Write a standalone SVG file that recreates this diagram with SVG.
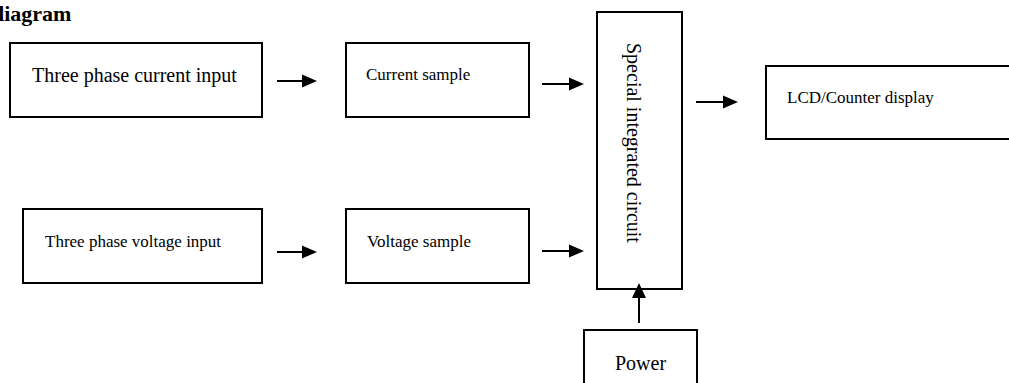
<svg xmlns="http://www.w3.org/2000/svg" width="1009" height="383" viewBox="0 0 1009 383">
<style>
.box{fill:#fff;stroke:#000;stroke-width:2}
.t{font-family:"Liberation Serif","Times New Roman",serif;fill:#000}
.big{font-size:20px}
.sm{font-size:17px}
.ln{stroke:#000;stroke-width:2;fill:none}
.hd{fill:#000}
</style>
<rect width="1009" height="383" fill="#fff"/>
<text class="t" x="-8" y="21" font-size="22" font-weight="bold">diagram</text>
<g id="n-current-input">
<rect class="box" x="10" y="43" width="252" height="74"/>
<text class="t big" x="32" y="82">Three phase current input</text>
</g>
<g id="n-current-sample">
<rect class="box" x="346" y="43" width="183" height="74"/>
<text class="t sm" x="366" y="80">Current sample</text>
</g>
<g id="n-voltage-input">
<rect class="box" x="23" y="209" width="239" height="74"/>
<text class="t sm" x="45" y="247">Three phase voltage input</text>
</g>
<g id="n-voltage-sample">
<rect class="box" x="346" y="209" width="183" height="74"/>
<text class="t sm" x="367" y="247">Voltage sample</text>
</g>
<g id="n-ic">
<rect class="box" x="597" y="12" width="85" height="277"/>
<text class="t big" transform="translate(627,43) rotate(90)">Special integrated circuit</text>
</g>
<g id="n-lcd">
<rect class="box" x="766" y="66" width="250" height="73"/>
<text class="t sm" x="787" y="103">LCD/Counter display</text>
</g>
<g id="n-power">
<rect class="box" x="584" y="330" width="113" height="70"/>
<text class="t big" x="615" y="370">Power</text>
</g>
<g id="connectors">
<line class="ln" x1="277" y1="81" x2="303" y2="81"/><polygon class="hd" points="317,81 302,74.5 302,87.5"/>
<line class="ln" x1="542" y1="84" x2="570" y2="84"/><polygon class="hd" points="584,84 569,77.5 569,90.5"/>
<line class="ln" x1="696" y1="102" x2="724" y2="102"/><polygon class="hd" points="738,102 723,95.5 723,108.5"/>
<line class="ln" x1="277" y1="252" x2="303" y2="252"/><polygon class="hd" points="317,252 302,245.5 302,258.5"/>
<line class="ln" x1="542" y1="251" x2="570" y2="251"/><polygon class="hd" points="584,251 569,244.5 569,257.5"/>
<line class="ln" x1="639" y1="323" x2="639" y2="297"/><polygon class="hd" points="639,283 632,298 646,298"/>
</g>
</svg>
